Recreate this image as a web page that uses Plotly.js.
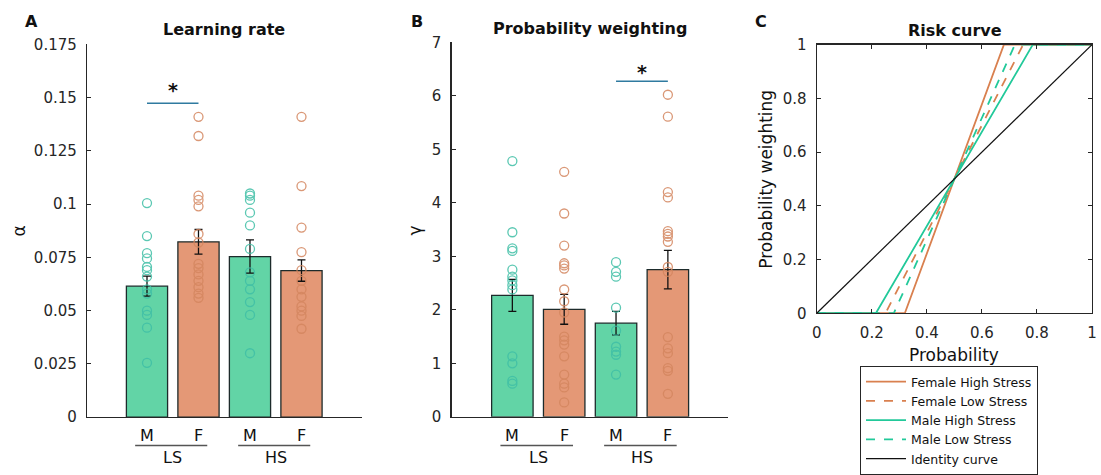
<!DOCTYPE html>
<html>
<head>
<meta charset="utf-8">
<script src="https://cdn.plot.ly/plotly-3.0.1.min.js"></script>
<style>html,body{margin:0;padding:0;background:#fff;}#chart{width:1101px;height:475px;}</style>
</head>
<body>
<div id="chart"></div>
<script>
// ---------- data ----------
const categories = ['M', 'F', 'M', 'F'];
const groupLabels = ['LS', 'HS'];
const positions = [1, 2, 3, 4];

// Panel A: learning rate (alpha)
const alphaMean = [0.0615, 0.0823, 0.0754, 0.0688];
const alphaSem = [0.0047, 0.0058, 0.0078, 0.0050];
const alphaMaleLS = [0.1005, 0.085, 0.077, 0.0745, 0.0705, 0.069, 0.066, 0.060, 0.058, 0.050, 0.048, 0.042, 0.0255];
const alphaFemaleLS = [0.141, 0.132, 0.104, 0.102, 0.099, 0.086, 0.082, 0.072, 0.070, 0.067, 0.064, 0.061, 0.058, 0.056];
const alphaMaleHS = [0.105, 0.104, 0.102, 0.096, 0.090, 0.079, 0.068, 0.064, 0.060, 0.054, 0.048, 0.030];
const alphaFemaleHS = [0.141, 0.1085, 0.089, 0.0775, 0.069, 0.064, 0.060, 0.0565, 0.052, 0.050, 0.0475, 0.0415];
const alphaSig = {from: 1, to: 2, level: 0.1474, star: 0.1534};

// Panel B: probability weighting (gamma)
const gammaMean = [2.27, 2.01, 1.75, 2.75];
const gammaSem = [0.30, 0.28, 0.22, 0.36];
const gammaMaleLS = [4.78, 3.45, 3.15, 3.10, 2.75, 2.62, 2.55, 2.46, 2.38, 1.13, 1.0, 0.67, 0.62];
const gammaFemaleLS = [4.58, 3.80, 3.20, 2.87, 2.83, 2.77, 2.38, 2.16, 1.95, 1.50, 1.43, 1.35, 1.13, 0.79, 0.62, 0.55, 0.27];
const gammaMaleHS = [2.89, 2.71, 2.62, 2.04, 1.61, 1.31, 1.22, 1.16, 0.79];
const gammaFemaleHS = [6.02, 5.61, 4.20, 4.10, 3.47, 3.42, 3.37, 3.27, 2.80, 2.71, 1.49, 1.28, 1.19, 0.91, 0.86, 0.43];
const gammaSig = {from: 3, to: 4, level: 6.27, star: 6.44};

// Panel C: risk curves
const femaleHighP = [0, 0.32, 0.68, 1];
const femaleHighW = [0, 0, 1, 1];
const femaleLowP = [0, 0.25, 0.75, 1];
const femaleLowW = [0, 0, 1, 1];
const maleHighP = [0, 0.215, 0.785, 1];
const maleHighW = [0, 0, 1, 1];
const maleLowP = [0, 0.28, 0.72, 1];
const maleLowW = [0, 0, 1, 1];
const identityP = [0, 1];
const identityW = [0, 1];
const riskTicks = [0, 0.2, 0.4, 0.6, 0.8, 1];
const riskTickText = ['0', '0.2', '0.4', '0.6', '0.8', '1'];

const alphaTicks = [0, 0.025, 0.05, 0.075, 0.1, 0.125, 0.15, 0.175];
const alphaTickText = ['0', '0.025', '0.05', '0.075', '0.1', '0.125', '0.15', '0.175'];
const gammaTicks = [0, 1, 2, 3, 4, 5, 6, 7];
const gammaTickText = ['0', '1', '2', '3', '4', '5', '6', '7'];

// ---------- styling ----------
const W = 1101, H = 475;
const px = v => v / W;
const py = v => 1 - v / H;
const FONT = 'DejaVu Sans, Liberation Sans, Arial, sans-serif';
const AX = '#262626';
const green = '#62d4a6', orange = '#e49876';
const greenMk = '#3fbfa6', orangeMk = '#d4865f';
const greenLine = '#22c99a', orangeLine = '#d9804f';
const barColors = [green, orange, green, orange];

function pointTraces(lists, xa, ya) {
  const cols = [greenMk, orangeMk, greenMk, orangeMk];
  return lists.map((vals, i) => ({
    type: 'scatter', mode: 'markers', xaxis: xa, yaxis: ya,
    x: vals.map(() => positions[i]), y: vals,
    marker: {symbol: 'circle-open', size: 9, color: cols[i], line: {width: 1.3, color: cols[i]}},
    opacity: 0.85, showlegend: false, hoverinfo: 'y'
  }));
}
function barTrace(mean, sem, xa, ya) {
  return {
    type: 'bar', xaxis: xa, yaxis: ya, x: positions, y: mean, width: 0.8,
    marker: {color: barColors, line: {color: '#1d2b2b', width: 1.3}},
    error_y: {type: 'data', array: sem, visible: true, color: '#111', thickness: 1.3, width: 4},
    showlegend: false
  };
}

const traces = [
  barTrace(alphaMean, alphaSem, 'x', 'y'),
  ...pointTraces([alphaMaleLS, alphaFemaleLS, alphaMaleHS, alphaFemaleHS], 'x', 'y'),
  barTrace(gammaMean, gammaSem, 'x2', 'y2'),
  ...pointTraces([gammaMaleLS, gammaFemaleLS, gammaMaleHS, gammaFemaleHS], 'x2', 'y2'),
  {type: 'scatter', mode: 'lines', xaxis: 'x3', yaxis: 'y3', x: femaleHighP, y: femaleHighW, name: 'Female High Stress', line: {color: orangeLine, width: 1.8}},
  {type: 'scatter', mode: 'lines', xaxis: 'x3', yaxis: 'y3', x: femaleLowP, y: femaleLowW, name: 'Female Low Stress', line: {color: orangeLine, width: 1.8, dash: 'dash'}},
  {type: 'scatter', mode: 'lines', xaxis: 'x3', yaxis: 'y3', x: maleHighP, y: maleHighW, name: 'Male High Stress', line: {color: greenLine, width: 1.8}},
  {type: 'scatter', mode: 'lines', xaxis: 'x3', yaxis: 'y3', x: maleLowP, y: maleLowW, name: 'Male Low Stress', line: {color: greenLine, width: 1.8, dash: 'dash'}},
  {type: 'scatter', mode: 'lines', xaxis: 'x3', yaxis: 'y3', x: identityP, y: identityW, name: 'Identity curve', line: {color: '#111', width: 1.2}}
];

const tickFont = {family: FONT, size: 15, color: AX};
function barX(domain, range) {
  return {domain, range, showline: true, linecolor: AX, linewidth: 1.2, ticks: '', showticklabels: false,
    showgrid: false, zeroline: false, fixedrange: true};
}
function barY(domain, range, tv, tt) {
  return {domain, range, showline: true, linecolor: AX, linewidth: 1.2, ticks: 'inside', ticklen: 4, tickcolor: AX,
    tickvals: tv, ticktext: tt, tickfont: tickFont, ticklabelstandoff: 6, showgrid: false, zeroline: false, fixedrange: true};
}
const riskAxis = (domain, extra) => Object.assign({domain, range: [0, 1], showline: true, mirror: 'ticks', linecolor: AX, linewidth: 1.2,
  ticks: 'inside', ticklen: 4, tickcolor: AX, tickvals: riskTicks, ticktext: riskTickText, tickfont: tickFont,
  ticklabelstandoff: 6, showgrid: false, zeroline: false, fixedrange: true}, extra || {});

const annotations = [];
const shapes = [];
function ann(text, x, y, size, bold, extra) {
  annotations.push(Object.assign({text: bold ? '<b>' + text + '</b>' : text, x: px(x), y: py(y), xref: 'paper', yref: 'paper',
    showarrow: false, xanchor: 'center', yanchor: 'middle', font: {family: FONT, size, color: '#111'}}, extra || {}));
}
// panel letters & titles
ann('A', 31, 22, 16, true);
ann('B', 417, 22, 16, true);
ann('C', 761, 22, 16, true);
ann('Learning rate', 224, 30, 16, true);
ann('Probability weighting', 590, 29, 16, true);
ann('Risk curve', 955, 31, 16, true);
// axis titles
ann('α', 19, 237, 17, false, {textangle: -90});
ann('γ', 415, 236, 17, false, {textangle: -90});
ann('Probability', 954, 363, 17, false);
ann('Probability weighting', 766, 183, 17, false, {textangle: -90});

// category and group labels (placed by data x, paper y)
function catLabels(xa) {
  categories.forEach((c, i) => annotations.push({text: c, x: positions[i], y: py(446), xref: xa, yref: 'paper', showarrow: false,
    xanchor: 'center', yanchor: 'middle', font: {family: FONT, size: 16, color: '#111'}}));
  groupLabels.forEach((g, gi) => {
    const a = positions[gi * 2], b = positions[gi * 2 + 1];
    annotations.push({text: g, x: (a + b) / 2, y: py(468), xref: xa, yref: 'paper', showarrow: false,
      xanchor: 'center', yanchor: 'middle', font: {family: FONT, size: 16, color: '#111'}});
    shapes.push({type: 'line', xref: xa, yref: 'paper', x0: a - 0.23, x1: b + 0.17, y0: py(456), y1: py(456), line: {color: '#555', width: 1.5}});
  });
}
catLabels('x');
catLabels('x2');

// significance markers
function sig(s, xa, ya) {
  shapes.push({type: 'line', xref: xa, yref: ya, x0: s.from, x1: s.to, y0: s.level, y1: s.level, line: {color: '#2f7aa0', width: 1.5}});
  annotations.push({text: '<b>*</b>', x: (s.from + s.to) / 2, y: s.star, xref: xa, yref: ya, showarrow: false,
    xanchor: 'center', yanchor: 'middle', font: {family: FONT, size: 19, color: '#111'}});
}
sig(alphaSig, 'x', 'y');
sig(gammaSig, 'x2', 'y2');

const layout = {
  width: W, height: H, margin: {l: 0, r: 0, t: 0, b: 0}, paper_bgcolor: '#fff', plot_bgcolor: 'rgba(0,0,0,0)',
  font: {family: FONT, color: AX}, barmode: 'overlay', showlegend: true,
  xaxis: barX([px(87), px(362)], [-0.165, 5.175]),
  yaxis: barY([py(427), py(45.5)], [0, 0.175], alphaTicks, alphaTickText),
  xaxis2: barX([px(451.5), px(728)], [-0.174, 5.16]),
  yaxis2: barY([py(426.7), py(43.3)], [0, 7], gammaTicks, gammaTickText),
  xaxis3: riskAxis([px(816.7), px(1092)], {anchor: 'y3'}),
  yaxis3: riskAxis([py(320.7), py(45.7)], {anchor: 'x3'}),
  legend: {x: px(860), y: py(375), xanchor: 'left', yanchor: 'top', bordercolor: AX, borderwidth: 1, bgcolor: '#fff',
    font: {family: FONT, size: 12.5, color: '#111'}, tracegroupgap: 0, itemwidth: 40},
  annotations, shapes
};
layout.xaxis.anchor = 'y';
layout.yaxis.anchor = 'x';
layout.xaxis2.anchor = 'y2';
layout.yaxis2.anchor = 'x2';

Plotly.newPlot('chart', traces, layout, {staticPlot: true, displayModeBar: false});
</script>
</body>
</html>
